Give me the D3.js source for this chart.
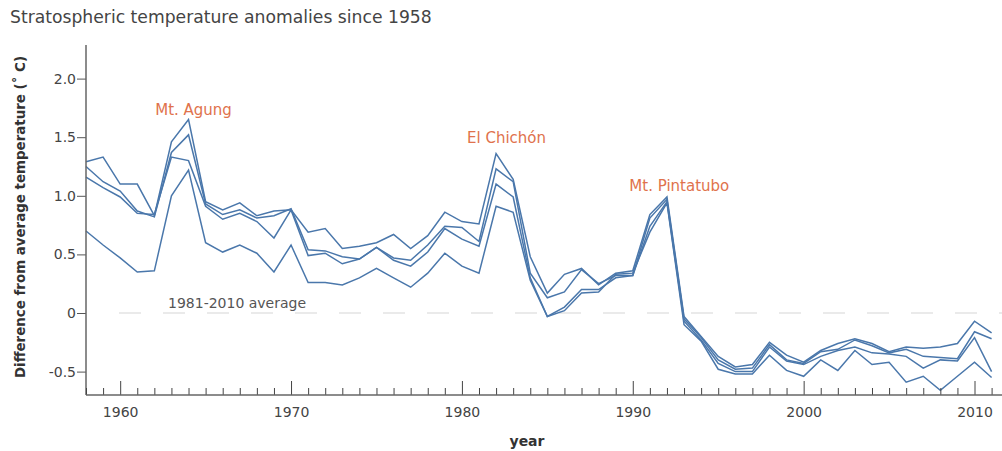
<!DOCTYPE html>
<html>
<head>
<meta charset="utf-8">
<script src="https://cdn.jsdelivr.net/npm/d3@7"></script>
<style>
  html, body { margin: 0; padding: 0; background: #fff; }
  svg { display: block; font-family: "DejaVu Sans", Verdana, sans-serif; }
</style>
</head>
<body>
<svg id="chart" width="1002" height="451"></svg>
<script>
const years = d3.range(1958, 2012);
const seriesA = [1.29,1.33,1.10,1.10,0.83,1.46,1.65,0.95,0.88,0.94,0.83,0.87,0.88,0.69,0.72,0.55,0.57,0.60,0.67,0.55,0.66,0.86,0.78,0.76,1.36,1.14,0.48,0.17,0.33,0.38,0.24,0.34,0.36,0.84,0.99,-0.03,-0.20,-0.37,-0.46,-0.44,-0.25,-0.36,-0.42,-0.32,-0.26,-0.22,-0.26,-0.33,-0.29,-0.30,-0.29,-0.26,-0.07,-0.17];
const seriesB = [1.25,1.12,1.04,0.87,0.82,1.37,1.52,0.93,0.84,0.88,0.81,0.83,0.89,0.54,0.53,0.48,0.46,0.56,0.47,0.45,0.58,0.74,0.73,0.61,1.23,1.12,0.34,0.13,0.18,0.37,0.25,0.32,0.32,0.81,0.97,-0.05,-0.21,-0.40,-0.48,-0.47,-0.27,-0.40,-0.43,-0.33,-0.31,-0.23,-0.28,-0.34,-0.31,-0.37,-0.38,-0.39,-0.16,-0.22];
const seriesC = [1.16,1.07,0.99,0.85,0.84,1.33,1.30,0.91,0.80,0.85,0.78,0.64,0.88,0.49,0.51,0.42,0.46,0.56,0.45,0.40,0.52,0.72,0.63,0.57,1.10,0.99,0.30,-0.03,0.05,0.20,0.20,0.30,0.32,0.74,0.95,-0.07,-0.23,-0.43,-0.50,-0.50,-0.29,-0.41,-0.44,-0.37,-0.32,-0.29,-0.34,-0.35,-0.37,-0.47,-0.40,-0.41,-0.21,-0.50];
const seriesD = [0.70,0.58,0.47,0.35,0.36,1.00,1.22,0.60,0.52,0.58,0.51,0.35,0.58,0.26,0.26,0.24,0.30,0.38,0.30,0.22,0.34,0.51,0.40,0.34,0.91,0.86,0.28,-0.03,0.02,0.17,0.18,0.33,0.34,0.69,0.94,-0.10,-0.24,-0.48,-0.52,-0.52,-0.36,-0.49,-0.54,-0.40,-0.49,-0.32,-0.44,-0.42,-0.59,-0.54,-0.66,-0.54,-0.42,-0.55];
const allSeries = [seriesA, seriesB, seriesC, seriesD];
const yTicks = [-0.5, 0, 0.5, 1.0, 1.5, 2.0];
const yTickLabels = ["-0.5", "0", "0.5", "1.0", "1.5", "2.0"];
const xMajorTicks = [1960, 1970, 1980, 1990, 2000, 2010];
const annotations = [
  {text: "Mt. Agung", year: 1962.05, value: 1.69},
  {text: "El Chichón", year: 1980.3, value: 1.45},
  {text: "Mt. Pintatubo", year: 1989.8, value: 1.04}
];

const svg = d3.select("#chart");
const x = d3.scaleLinear().domain([1958, 2011]).range([86, 991.6]);
const y = d3.scaleLinear().domain([0, 0.5]).range([313, 254.4]);
const yBottom = 395, yTop = 45;

// title
svg.append("text").attr("x", 10).attr("y", 23)
  .attr("font-size", 17.2).attr("fill", "#444")
  .text("Stratospheric temperature anomalies since 1958");

// zero line
svg.append("line")
  .attr("x1", 119).attr("x2", 1002).attr("y1", y(0)).attr("y2", y(0))
  .attr("stroke", "#d6d6d6").attr("stroke-width", 1.2).attr("stroke-dasharray", "22,22");
svg.append("text").attr("x", 168).attr("y", y(0) - 5)
  .attr("font-size", 14).attr("fill", "#555").text("1981-2010 average");

// lines
const line = d3.line().x((d, i) => x(years[i])).y(d => y(d));
svg.append("g").selectAll("path").data(allSeries).join("path")
  .attr("d", line).attr("fill", "none")
  .attr("stroke", "#4a77ab").attr("stroke-width", 1.5).attr("stroke-linejoin", "miter");

// y axis
const yAxis = d3.axisLeft(y).tickValues(yTicks).tickSize(9).tickPadding(1)
  .tickFormat((d, i) => yTickLabels[i]);
const gy = svg.append("g").attr("transform", "translate(86,0)").call(yAxis);
gy.select(".domain").remove();
gy.selectAll("line").attr("stroke", "#555");
gy.selectAll("text").attr("font-size", 14).attr("fill", "#444").attr("font-family", "DejaVu Sans");
svg.append("line").attr("x1", 86).attr("x2", 86).attr("y1", yTop).attr("y2", yBottom)
  .attr("stroke", "#666").attr("stroke-width", 1.5);

// x axis
const xMinor = d3.range(1958, 2012).filter(v => v % 10 !== 0);
const xAxisMinor = d3.axisTop(x).tickValues(xMinor).tickSize(7).tickFormat("");
const gxm = svg.append("g").attr("transform", `translate(0,${yBottom})`).call(xAxisMinor);
gxm.select(".domain").remove();
gxm.selectAll("line").attr("stroke", "#444");
const xAxisMajor = d3.axisTop(x).tickValues(xMajorTicks).tickSize(14).tickFormat("");
const gxM = svg.append("g").attr("transform", `translate(0,${yBottom})`).call(xAxisMajor);
gxM.select(".domain").remove();
gxM.selectAll("line").attr("stroke", "#444");
const gxl = svg.append("g").attr("transform", `translate(0,${yBottom})`)
  .call(d3.axisBottom(x).tickValues(xMajorTicks).tickSize(0).tickPadding(12).tickFormat(d3.format("d")));
gxl.select(".domain").remove();
gxl.selectAll("text").attr("font-size", 14).attr("fill", "#444").attr("font-family", "DejaVu Sans");
svg.append("line").attr("x1", 86).attr("x2", 1002).attr("y1", yBottom).attr("y2", yBottom)
  .attr("stroke", "#666").attr("stroke-width", 1.5);

// axis titles
svg.append("text").attr("x", 527).attr("y", 446).attr("text-anchor", "middle")
  .attr("font-size", 14).attr("font-weight", "bold").attr("fill", "#333").text("year");
svg.append("text").attr("transform", "translate(25,217) rotate(-90)").attr("text-anchor", "middle")
  .attr("font-size", 13.4).attr("font-weight", "bold").attr("fill", "#333")
  .text("Difference from average temperature (˚ C)");

// annotations
svg.append("g").selectAll("text").data(annotations).join("text")
  .attr("x", d => x(d.year)).attr("y", d => y(d.value))
  .attr("font-size", 15).attr("fill", "#e0724c").text(d => d.text);
</script>
</body>
</html>
